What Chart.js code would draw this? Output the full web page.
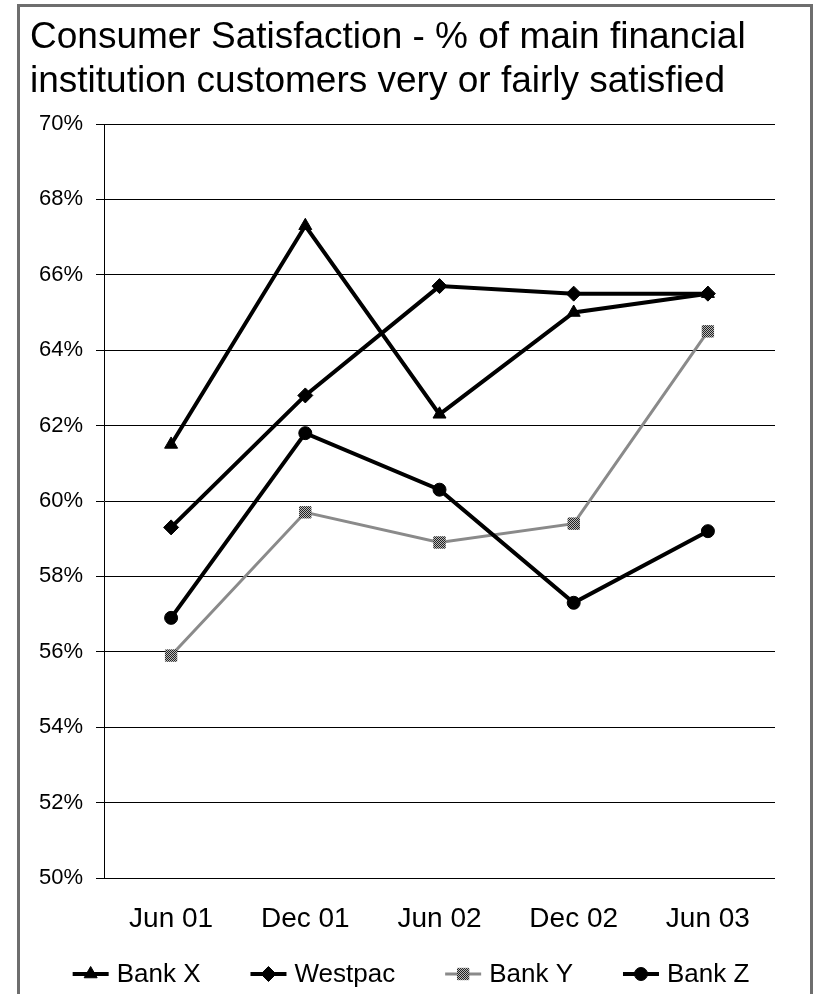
<!DOCTYPE html>
<html>
<head>
<meta charset="utf-8">
<script src="https://cdn.jsdelivr.net/npm/chart.js@4/dist/chart.umd.min.js"></script>
<style>
  html, body { margin: 0; padding: 0; background: #fff; }
  #wrap { width: 815px; height: 994px; }
</style>
</head>
<body>
<div id="wrap"><canvas id="c" width="815" height="994"></canvas></div>
<script>
// Survey periods
const periods = ['Jun 01', 'Dec 01', 'Jun 02', 'Dec 02', 'Jun 03'];

// % of main financial institution customers very or fairly satisfied
const bankX   = [61.5, 67.3, 62.3, 65.0, 65.5];
const westpac = [59.3, 62.8, 65.7, 65.5, 65.5];
const bankY   = [55.9, 59.7, 58.9, 59.4, 64.5];
const bankZ   = [56.9, 61.8, 60.3, 57.3, 59.2];

const seriesNames = ['Bank X', 'Westpac', 'Bank Y', 'Bank Z'];

const titleLines = [
  'Consumer Satisfaction - % of main financial',
  'institution customers very or fairly satisfied'
];

const yMin = 50, yMax = 70, yStep = 2;

const FONT = "'Liberation Sans', Arial, Helvetica, sans-serif";
Chart.defaults.font.family = FONT;
Chart.defaults.color = '#000';

// 1px checker pattern for the grey series markers (dithered look)
function checker() {
  const p = document.createElement('canvas');
  p.width = 2; p.height = 2;
  const g = p.getContext('2d');
  g.fillStyle = '#bbb'; g.fillRect(0, 0, 2, 2);
  g.fillStyle = '#222'; g.fillRect(0, 0, 1, 1); g.fillRect(1, 1, 1, 1);
  return g.createPattern(p, 'repeat');
}
const ctx = document.getElementById('c').getContext('2d');
const greyPat = checker();
const greyLine = '#8a8a8a';

// White page and outer frame
const framePlugin = {
  id: 'frame',
  beforeDraw(chart) {
    const c = chart.ctx;
    c.save();
    c.fillStyle = '#fff';
    c.fillRect(0, 0, chart.width, chart.height);
    c.strokeStyle = '#6e6e6e';
    c.lineWidth = 3;
    c.strokeRect(18.5, 5.5, 793, chart.height + 20);
    c.restore();
  }
};

// Legend with line + marker samples, laid out in one centred row
const lineLegend = {
  id: 'lineLegend',
  afterDraw(chart) {
    const c = chart.ctx;
    const y = 974, lineLen = 36, gap = 8, spacing = 50, centre = 411;
    c.save();
    c.font = '26px ' + FONT;
    c.textBaseline = 'middle';
    const items = chart.data.datasets.map(ds => ({ ds, w: lineLen + gap + c.measureText(ds.label).width }));
    const total = items.reduce((s, it) => s + it.w, 0) + spacing * (items.length - 1);
    let x = centre - total / 2;
    items.forEach(it => {
      const ds = it.ds;
      c.strokeStyle = ds.borderColor;
      c.lineWidth = ds.borderWidth;
      c.beginPath();
      c.moveTo(x, y); c.lineTo(x + lineLen, y);
      c.stroke();
      c.fillStyle = ds.pointBackgroundColor;
      c.strokeStyle = ds.pointBorderColor;
      c.lineWidth = 1;
      Chart.helpers.drawPoint(c, { pointStyle: ds.pointStyle, radius: ds.pointRadius, rotation: 0, borderWidth: 1 }, x + lineLen / 2, y);
      c.fillStyle = '#000';
      c.textAlign = 'left';
      c.fillText(ds.label, x + lineLen + gap, y + 1);
      x += it.w + spacing;
    });
    c.restore();
  }
};

function series(label, data, style, radius, order, line, marker, width) {
  return {
    label, data, order,
    borderColor: line,
    borderWidth: width,
    pointStyle: style,
    pointRadius: radius,
    pointHoverRadius: radius,
    pointBackgroundColor: marker,
    pointBorderColor: marker,
    pointBorderWidth: 1,
    tension: 0,
    fill: false
  };
}

new Chart(ctx, {
  type: 'line',
  data: {
    labels: periods,
    datasets: [
      series(seriesNames[0], bankX, 'triangle', 7.5, 1, '#000', '#000', 4),
      series(seriesNames[1], westpac, 'rectRot', 7.5, 0, '#000', '#000', 4),
      series(seriesNames[2], bankY, 'rect', 8, 3, greyLine, greyPat, 3),
      series(seriesNames[3], bankZ, 'circle', 6.5, 2, '#000', '#000', 4)
    ]
  },
  options: {
    responsive: false,
    animation: false,
    events: [],
    layout: { padding: { left: 30, right: 40, top: 0, bottom: 56 } },
    plugins: {
      legend: { display: false },
      tooltip: { enabled: false },
      title: {
        display: true,
        text: titleLines,
        align: 'start',
        color: '#000',
        font: { size: 37, weight: 'normal', lineHeight: 44 / 37 },
        padding: { top: 16, bottom: 20 }
      }
    },
    scales: {
      x: {
        offset: true,
        grid: { display: false, drawTicks: false },
        border: { display: false },
        ticks: { font: { size: 28, lineHeight: 1 }, padding: 27, color: '#000', maxRotation: 0 },
        afterFit(scale) { scale.height = 60; }
      },
      y: {
        min: yMin,
        max: yMax,
        ticks: {
          stepSize: yStep,
          padding: 13,
          color: '#000',
          font: { size: 22 },
          callback: v => v + '%'
        },
        grid: { color: '#000', lineWidth: 1, drawTicks: true, tickLength: 8, tickColor: '#000' },
        border: { display: true, color: '#000', width: 1 },
        afterFit(scale) { scale.width = 74; }
      }
    }
  },
  plugins: [framePlugin, lineLegend]
});
</script>
</body>
</html>
